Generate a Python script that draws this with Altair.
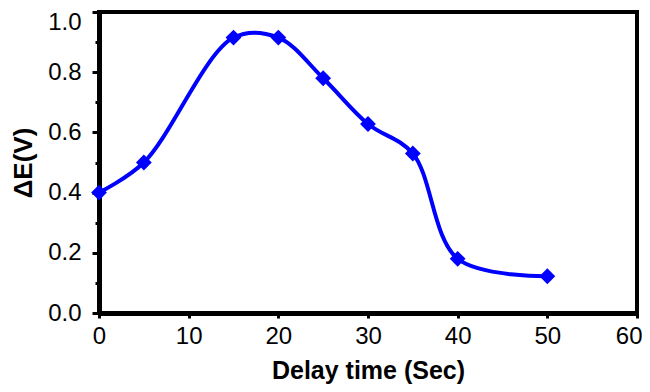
import altair as alt
import pandas as pd

delay = [0, 5, 15, 20, 25, 30, 35, 40, 50]
delta_e = [0.40, 0.50, 0.915, 0.915, 0.78, 0.628, 0.53, 0.18, 0.122]

df = pd.DataFrame({"x": delay, "y": delta_e})

FONT = "Liberation Sans"

x = alt.X("x:Q", scale=alt.Scale(domain=[0, 60], nice=False),
          axis=alt.Axis(title="Delay time (Sec)", values=[0, 10, 20, 30, 40, 50, 60],
                        grid=False, domainColor="black", domainWidth=5,
                        tickColor="black", tickWidth=3, tickSize=5,
                        labelFont=FONT, labelFontSize=24, labelColor="black",
                        labelAlign={"condition": {"test": "datum.value == 60", "value": "right"}, "value": "center"},
                        labelOffset={"condition": {"test": "datum.value == 60", "value": 5}, "value": 0},
                        labelPadding=6, labelFlush=False, titleFont=FONT, titleFontSize=25,
                        titleFontWeight="bold", titleColor="black", titlePadding=10))
y = alt.Y("y:Q", scale=alt.Scale(domain=[0, 1.0], nice=False),
          axis=alt.Axis(title="ΔE(V)", values=[0, 0.1, 0.2, 0.3, 0.4, 0.5, 0.6, 0.7, 0.8, 0.9, 1.0],
                        labelExpr="round(datum.value*10) % 2 == 0 ? format(datum.value, '.1f') : ''",
                        tickSize={"condition": {"test": "round(datum.value*10) % 2 == 1", "value": 4}, "value": 7},
                        labelOffset={"condition": {"test": "datum.value == 1", "value": 10}, "value": 0},
                        grid=False, domainColor="black", domainWidth=5,
                        tickColor="black", tickWidth=3,
                        labelFont=FONT, labelFontSize=24, labelColor="black", labelFlush=False,
                        labelPadding=11, titleFont=FONT, titleFontSize=26,
                        titleFontWeight="bold", titleColor="black", titlePadding=11))

line = alt.Chart(df).mark_line(color="#0000FF", strokeWidth=4, interpolate="catmull-rom").encode(x=x, y=y)
pts = alt.Chart(df).mark_point(shape="diamond", filled=True, color="#0000FF", size=250, opacity=1).encode(x=x, y=y)

chart = (line + pts).properties(
    width=538, height=301,
    background="white",
    autosize=alt.AutoSizeParams(type="none"),
    padding={"left": 91, "top": 4, "right": 5, "bottom": 71},
).configure_view(stroke="black", strokeWidth=4)

chart.save("out.html", embed_options={"renderer": "svg", "actions": False})
